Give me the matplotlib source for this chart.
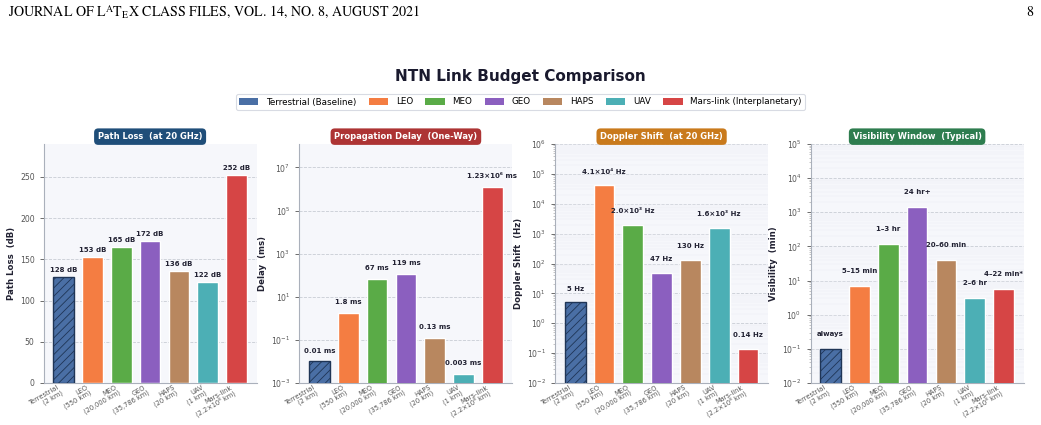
import matplotlib
matplotlib.use("Agg")
import matplotlib.pyplot as plt
from matplotlib.patches import Patch
import numpy as np

plt.rcParams['font.family'] = ['DejaVu Sans']
plt.rcParams['hatch.linewidth'] = 0.6

# ---------------- data ----------------
categories = ["Terrestrial\n(2 km)", "LEO\n(550 km)", "MEO\n(20,000 km)", "GEO\n(35,786 km)",
              "HAPS\n(20 km)", "UAV\n(1 km)", "Mars-link\n(2.2×10⁸ km)"]
legend_names = ["Terrestrial (Baseline)", "LEO", "MEO", "GEO", "HAPS", "UAV",
                "Mars-link (Interplanetary)"]
colors = ['#4a6fa5', '#f47d42', '#5aab47', '#8b5fbf', '#b8875f', '#4cafb5', '#d64545']

path_loss = [128, 153, 165, 172, 136, 122, 252]
path_loss_labels = ["128 dB", "153 dB", "165 dB", "172 dB", "136 dB", "122 dB", "252 dB"]

delay_ms = [0.01, 1.8, 67, 119, 0.12, 0.0027, 1.23e6]
delay_labels = ["0.01 ms", "1.8 ms", "67 ms", "119 ms", "0.13 ms", "0.003 ms", "1.23×10⁶ ms"]

doppler_hz = [5, 4.1e4, 2.0e3, 47, 130, 1.6e3, 0.14]
doppler_labels = ["5 Hz", "4.1×10⁴ Hz", "2.0×10³ Hz", "47 Hz", "130 Hz", "1.6×10³ Hz", "0.14 Hz"]

visibility_min = [0.1, 7, 115, 1440, 40, 3, 5.5]
visibility_labels = ["always", "5–15 min", "1–3 hr", "24 hr+", "20–60 min", "2–6 hr", "4–22 min*"]

panel_titles = ["Path Loss  (at 20 GHz)", "Propagation Delay  (One-Way)",
                "Doppler Shift  (at 20 GHz)", "Visibility Window  (Typical)"]
panel_colors = ['#1f4e79', '#ad3434', '#c97a1c', '#2e7d4f']
ylabels = ["Path Loss  (dB)", "Delay  (ms)", "Doppler Shift  (Hz)", "Visibility  (min)"]

# ---------------- figure ----------------
W, H = 1041, 425
fig = plt.figure(figsize=(W / 100, H / 100), dpi=100)
fig.patch.set_facecolor('white')

# journal header
fig.text(8 / W, 1 - 12 / H,
         r"JOURNAL OF L$^{\mathrm{A}}$T$_{\mathrm{E}}$X CLASS FILES, VOL. 14, NO. 8, AUGUST 2021",
         family='STIXGeneral', math_fontfamily='stix', fontsize=10.1, ha='left', va='center',
         color='black')
fig.text(1033 / W, 1 - 12 / H, "8", family='STIXGeneral', fontsize=10.1,
         ha='right', va='center', color='black')

fig.text(0.5, 1 - 77 / H, "NTN Link Budget Comparison", ha='center', va='center',
         fontsize=11, fontweight='bold', color='#1a1a2e')

handles = [Patch(facecolor=c, edgecolor='none', label=n) for c, n in zip(colors, legend_names)]
leg = fig.legend(handles=handles, loc='center', bbox_to_anchor=(0.5, 1 - 102 / H), ncol=7,
                 fontsize=6.3, frameon=True, handlelength=2.2, handleheight=0.8,
                 columnspacing=1.4, handletextpad=0.9, borderpad=0.35)
leg.get_frame().set_edgecolor('#cfd3dc')
leg.get_frame().set_linewidth(0.8)

lefts = [43.6, 299.4, 555.1, 810.6]
ax_w = 213
ax_bottom, ax_top = 383, 144

datasets = [
    (path_loss, path_loss_labels, False),
    (delay_ms, delay_labels, True),
    (doppler_hz, doppler_labels, True),
    (visibility_min, visibility_labels, True),
]
ylims = [(0, 252 * 1.15), (1e-3, 1.23e8), (1e-2, 1e6), (1e-2, 1e5)]

x = np.arange(len(categories))
for i, (vals, labs, islog) in enumerate(datasets):
    ax = fig.add_axes([lefts[i] / W, 1 - ax_bottom / H, ax_w / W, (ax_bottom - ax_top) / H])
    ax.set_facecolor('#f6f7fb')
    bars = ax.bar(x, vals, width=0.72, color=colors, edgecolor='white', linewidth=1.0, zorder=3)
    bars[0].set_edgecolor('#1f3556')
    bars[0].set_hatch('////')
    bars[0].set_linewidth(1.0)
    if islog:
        ax.set_yscale('log')
    ax.set_ylim(*ylims[i])
    for xi, v, lab in zip(x, vals, labs):
        yy = v * 2.3 if islog else v + 0.02 * max(vals)
        ax.text(xi, yy, lab, ha='center', va='bottom', fontsize=5.0, fontweight='bold',
                color='#222233', zorder=4)
    ax.set_xticks(x)
    ax.set_xticklabels(categories, rotation=30, ha='right', fontsize=4.8, color='#555555',
                       linespacing=0.95)
    ax.tick_params(axis='x', length=0, pad=0.8)
    ax.tick_params(axis='y', labelsize=5.6, colors='#555555', length=3, width=0.6)
    ax.tick_params(axis='y', which='minor', length=1.5, width=0.4, colors='#999999')
    for s in ['top', 'right']:
        ax.spines[s].set_visible(False)
    for s in ['left', 'bottom']:
        ax.spines[s].set_color('#aab0bb')
        ax.spines[s].set_linewidth(0.8)
    ax.grid(True, axis='y', which='major', linestyle='--', color='#c8ccd4', linewidth=0.6, zorder=0)
    if islog:
        ax.grid(True, axis='y', which='minor', linestyle='-', color='#eceef3', linewidth=0.35, zorder=0)
    ax.set_axisbelow(True)
    ax.set_ylabel(ylabels[i], fontsize=6.2, fontweight='bold', color='#222233', labelpad=3)
    ax.annotate(panel_titles[i], xy=(0.5, 1.0), xycoords='axes fraction',
                xytext=(0, 5.3), textcoords='offset points', ha='center', va='center',
                fontsize=6.0, fontweight='bold', color='white',
                bbox=dict(boxstyle='round,pad=0.45,rounding_size=0.5', facecolor=panel_colors[i],
                          edgecolor='none'))

fig.savefig("out.png", dpi=100, facecolor='white')
